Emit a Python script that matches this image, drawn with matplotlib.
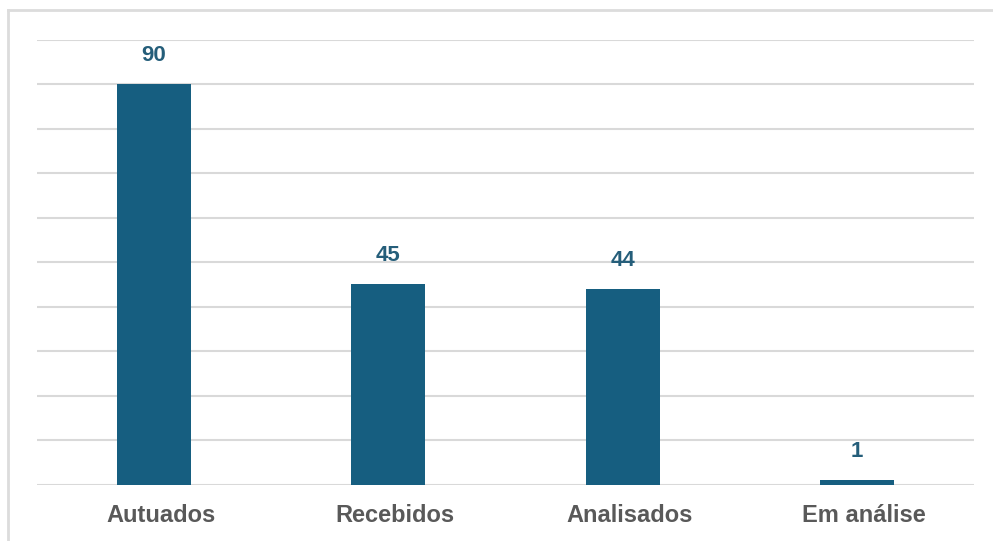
import matplotlib
matplotlib.use("Agg")
import matplotlib.pyplot as plt
import matplotlib.transforms as mtransforms
from matplotlib.lines import Line2D

plt.rcParams["font.family"] = ["Liberation Sans", "DejaVu Sans"]

categories = ["Autuados", "Recebidos", "Analisados", "Em análise"]
counts = [90, 45, 44, 1]

BAR_COLOR = "#165e80"
VALUE_COLOR = "#255e7a"
TICK_COLOR = "#595959"
GRID_COLOR = "#d9d9d9"

fig = plt.figure(figsize=(9.93, 5.41), dpi=100)
ax = fig.add_axes([37 / 993, 1 - 484.5 / 541, 937 / 993, 445 / 541])

x = range(len(categories))
bars = ax.bar(x, counts, width=0.316, color=BAR_COLOR, zorder=3)

for rect, val in zip(bars, counts):
    ax.annotate(str(val),
                xy=(rect.get_x() + rect.get_width() / 2, rect.get_height()),
                xytext=(0, 16.5), textcoords="offset points",
                ha="center", va="baseline",
                fontsize=16, fontweight="bold", color=VALUE_COLOR)

ax.set_xlim(-0.5, len(categories) - 0.5)
ax.set_ylim(0, 100)
ax.set_yticks(range(0, 101, 10))
ax.yaxis.grid(True, color=GRID_COLOR, linewidth=1.5, zorder=0)
ax.tick_params(axis="y", left=False, labelleft=False)
ax.tick_params(axis="x", length=0, pad=14, labelsize=17, labelcolor=TICK_COLOR)
ax.set_xticks(list(x))
ax.set_xticklabels(categories, fontweight="bold")
# category names sit a little to the right of the bar centres
shift = mtransforms.ScaledTranslation(7 / 100, 0, fig.dpi_scale_trans)
for lbl in ax.get_xticklabels():
    lbl.set_transform(lbl.get_transform() + shift)
for side in ("top", "right", "left", "bottom"):
    ax.spines[side].set_visible(False)

# light frame along the left and top edges
fig.add_artist(Line2D([8 / 993, 8 / 993], [0, 1 - 9.5 / 541],
                      color="#dcdcdc", linewidth=2, transform=fig.transFigure))
fig.add_artist(Line2D([8 / 993, 1], [1 - 9.5 / 541, 1 - 9.5 / 541],
                      color="#dcdcdc", linewidth=2, transform=fig.transFigure))

fig.savefig("out.png", dpi=100)
